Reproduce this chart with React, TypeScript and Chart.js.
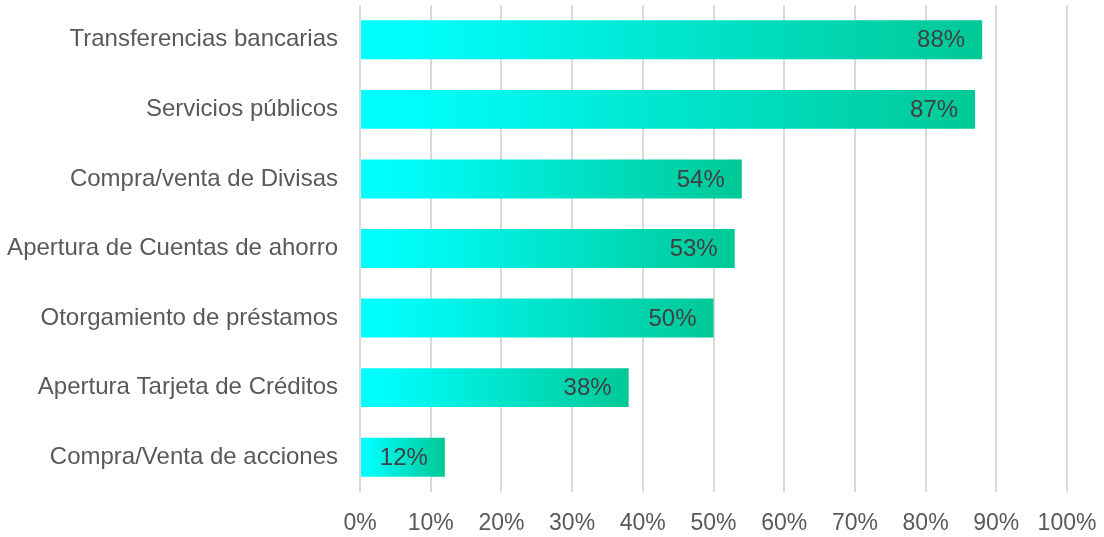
import React, { useEffect, useRef } from "react";
import { Chart, registerables } from "chart.js";

Chart.register(...registerables);

const categories = [
  "Transferencias bancarias",
  "Servicios públicos",
  "Compra/venta de Divisas",
  "Apertura de Cuentas de ahorro",
  "Otorgamiento de préstamos",
  "Apertura Tarjeta de Créditos",
  "Compra/Venta de acciones",
];
const values = [88, 87, 54, 53, 50, 38, 12];
const xTicks = [0, 10, 20, 30, 40, 50, 60, 70, 80, 90, 100];

const FONT = '"Liberation Sans", Arial, sans-serif';

const valueLabels = {
  id: "valueLabels",
  afterDatasetsDraw(chart: any) {
    const { ctx } = chart;
    const meta = chart.getDatasetMeta(0);
    ctx.save();
    ctx.font = `24px ${FONT}`;
    ctx.fillStyle = "#404040";
    ctx.textAlign = "right";
    ctx.textBaseline = "middle";
    meta.data.forEach((bar: any, i: number) => {
      ctx.fillText(values[i] + "%", bar.x - 17, bar.y + 1);
    });
    ctx.restore();
  },
};

export default function App() {
  const ref = useRef<HTMLCanvasElement>(null);
  useEffect(() => {
    if (!ref.current) return;
    const chart = new Chart(ref.current, {
      type: "bar",
      data: {
        labels: categories,
        datasets: [
          {
            data: values,
            barPercentage: 0.56,
            categoryPercentage: 1,
            backgroundColor: (c: any) => {
              const ch = c.chart;
              if (!ch.chartArea || !ch.scales.x) return "#00E6C8";
              const xs = ch.scales.x;
              const v = c.raw ?? 0;
              const x0 = xs.getPixelForValue(0);
              const x1 = xs.getPixelForValue(v);
              if (!(x1 > x0)) return "#00E6C8";
              const g = ch.ctx.createLinearGradient(x0, 0, x1, 0);
              g.addColorStop(0, "#00FFFF");
              g.addColorStop(0.06, "#00FFFF");
              g.addColorStop(1, "#00C896");
              return g;
            },
            borderWidth: 0,
          },
        ],
      },
      options: {
        indexAxis: "y",
        animation: false,
        responsive: true,
        maintainAspectRatio: false,
        layout: { padding: { top: 5, right: 37, left: 0, bottom: 0 } },
        plugins: {
          legend: { display: false },
          tooltip: { enabled: false },
        },
        scales: {
          x: {
            min: 0,
            max: 100,
            afterBuildTicks: (s: any) => {
              s.ticks = xTicks.map((v) => ({ value: v }));
            },
            afterFit: (s: any) => {
              s.height = 45;
              s.paddingLeft = 0;
              s.paddingRight = 0;
            },
            grid: { color: "#d9d9d9", lineWidth: 2, drawTicks: false },
            border: { display: false },
            ticks: {
              color: "#595959",
              font: { family: FONT, size: 23 },
              padding: 18,
              callback: (v: any) => v + "%",
            },
          },
          y: {
            afterFit: (s: any) => {
              s.width = 360;
              s.paddingTop = 0;
              s.paddingBottom = 0;
            },
            grid: { display: false, drawTicks: false },
            border: { display: false },
            ticks: {
              color: "#595959",
              font: { family: FONT, size: 24 },
              padding: 22,
            },
          },
        },
      },
      plugins: [valueLabels],
    });
    return () => chart.destroy();
  }, []);
  return (
    <div style={{ position: "fixed", left: 0, top: 0, width: 1104, height: 537, background: "#fff" }}>
      <canvas ref={ref} />
    </div>
  );
}
